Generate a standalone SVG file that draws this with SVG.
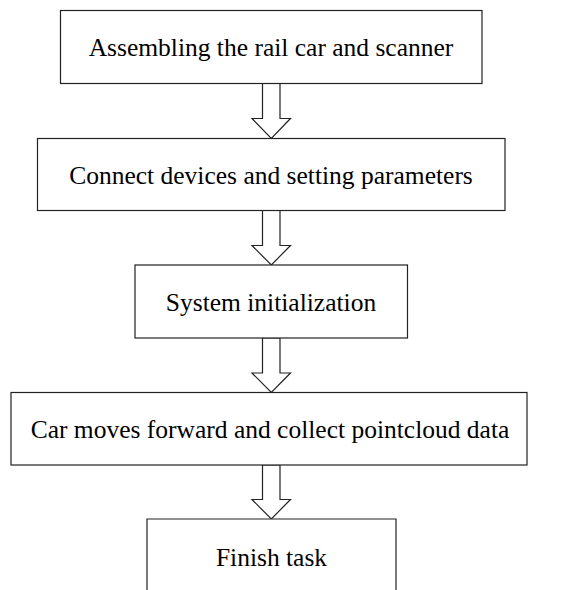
<svg xmlns="http://www.w3.org/2000/svg" width="565" height="590" viewBox="0 0 565 590">
<style>
.box{fill:#fff;stroke:#222;stroke-width:1.2}
.lbl{font-family:"Liberation Serif","Times New Roman",serif;font-size:25.5px;fill:#000;text-anchor:middle}
.arr{fill:#fff;stroke:#222;stroke-width:1.2;stroke-linejoin:miter}
</style>
<rect width="565" height="590" fill="#fff"/>
<g id="connectors">
<path class="arr" d="M262.5,83.5 V118.5 H252 L271.3,138.5 L290.5,118.5 H280 V83.5 Z"/>
<path class="arr" d="M262.5,210.5 V245.5 H252 L271.3,265 L290.5,245.5 H280 V210.5 Z"/>
<path class="arr" d="M262.5,338 V373 H252 L271.3,392.5 L290.5,373 H280 V338 Z"/>
<path class="arr" d="M262.5,465 V499.5 H252 L271.3,519 L290.5,499.5 H280 V465 Z"/>
</g>
<g id="n1"><rect class="box" x="60.5" y="10.5" width="421.5" height="73"/><text class="lbl" x="271" y="56">Assembling the rail car and scanner</text></g>
<g id="n2"><rect class="box" x="37.5" y="138.5" width="467.5" height="72"/><text class="lbl" x="271" y="183.5">Connect devices and setting parameters</text></g>
<g id="n3"><rect class="box" x="135" y="265" width="272.5" height="73"/><text class="lbl" x="271" y="310.5">System initialization</text></g>
<g id="n4"><rect class="box" x="11" y="392.5" width="516" height="72.5"/><text class="lbl" x="270" y="437.5">Car moves forward and collect pointcloud data</text></g>
<g id="n5"><path class="box" d="M147,590 V519 H396 V590"/><text class="lbl" x="271.5" y="566">Finish task</text></g>
</svg>
